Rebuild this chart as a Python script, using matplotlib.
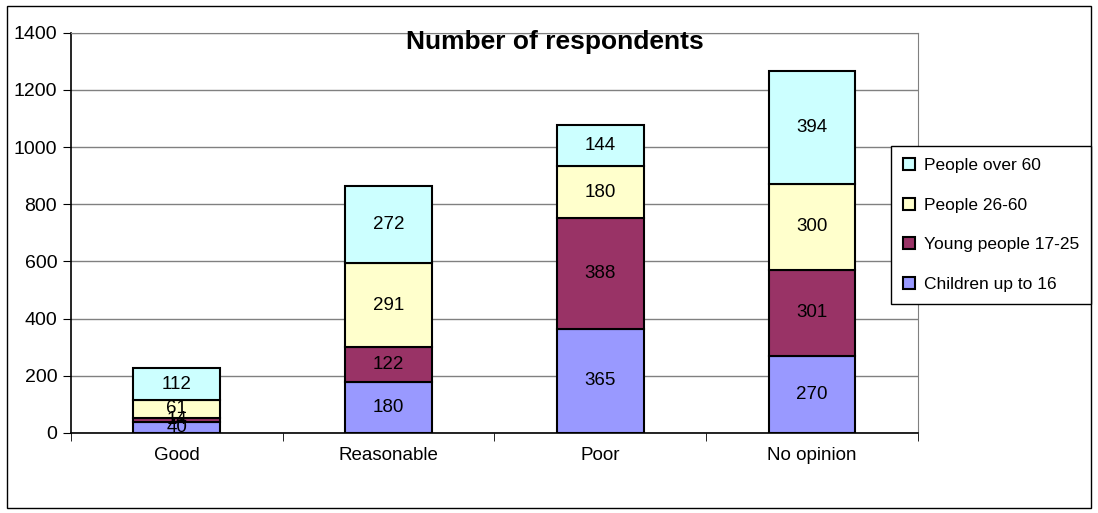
import numpy as np
import matplotlib.pyplot as plt
from matplotlib.patches import Rectangle

plt.rcParams['font.family'] = ['Liberation Sans', 'DejaVu Sans']

categories = ['Good', 'Reasonable', 'Poor', 'No opinion']
series_names = ['Children up to 16', 'Young people 17-25', 'People 26-60', 'People over 60']
children = [40, 180, 365, 270]
young = [14, 122, 388, 301]
middle = [61, 291, 180, 300]
over60 = [112, 272, 144, 394]
colors = ['#9999FF', '#993366', '#FFFFCC', '#CCFFFF']

fig = plt.figure(figsize=(10.98, 5.13), dpi=100)
fig.patches.append(Rectangle((0.006, 0.01), 0.988, 0.978, transform=fig.transFigure,
                             fill=False, edgecolor='black', linewidth=1))
ax = fig.add_axes([0.0647, 0.156, 0.7713, 0.78])

x = np.arange(len(categories))
bottom = np.zeros(len(categories))
handles = []
for name, vals, col in zip(series_names, [children, young, middle, over60], colors):
    bars = ax.bar(x, vals, width=0.41, bottom=bottom, color=col, edgecolor='black',
                  linewidth=1.5, label=name, zorder=3)
    for xi, b, v in zip(x, bottom, vals):
        ax.text(xi, b + v / 2, str(v), ha='center', va='center', fontsize=13.5, zorder=4)
    bottom += np.array(vals)
    handles.append(bars)

ax.set_xlim(-0.5, len(categories) - 0.5)
ax.set_ylim(0, 1400)
ax.set_yticks(range(0, 1401, 200))
ax.yaxis.grid(True, color='#808080', linewidth=1, zorder=0)
ax.set_xticks(x)
ax.set_xticklabels(categories)
ax.set_xticks(np.arange(-0.5, len(categories), 1), minor=True)
ax.tick_params(axis='x', which='major', length=0, labelsize=13.5, pad=10)
ax.tick_params(axis='x', which='minor', length=6, direction='out', color='black')
ax.tick_params(axis='y', length=6, direction='out', labelsize=14, pad=4)
for s in ['top', 'right']:
    ax.spines[s].set_color('#808080')
for s in ['left', 'bottom']:
    ax.spines[s].set_color('black')
    ax.spines[s].set_linewidth(1.2)

fig.text(0.505, 0.918, 'Number of respondents', ha='center', va='center',
         fontsize=19, fontweight='bold', zorder=5)

leg = fig.legend(handles[::-1], series_names[::-1], loc='upper left',
                 bbox_to_anchor=(0.8115, 0.7154), fontsize=12.5, frameon=True, fancybox=False,
                 edgecolor='black', handlelength=0.7, handleheight=0.7, handletextpad=0.5,
                 labelspacing=1.4, borderpad=0.7, borderaxespad=0, framealpha=1)
leg.get_frame().set_linewidth(1)

fig.savefig('out.png', dpi=100)
